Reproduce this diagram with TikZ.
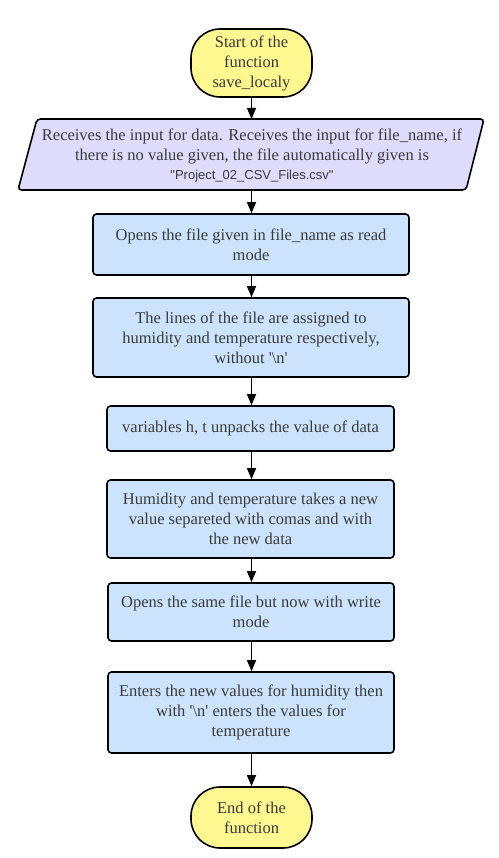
\documentclass[tikz,border=0pt]{standalone}
\usepackage{fontspec}
\setmainfont{Liberation Serif}
\newfontfamily\fnsans{Liberation Sans}
\usetikzlibrary{arrows.meta}
\definecolor{termyellow}{HTML}{FFF78F}
\definecolor{iolav}{HTML}{DEDCFC}
\definecolor{procblue}{HTML}{CCE3FD}
\definecolor{txtgray}{HTML}{3A3A3A}
\newcommand{\sq}{\textquotesingle}
\tikzset{
  base/.style={draw=black, line width=1.6pt, text=txtgray, align=center,
    font=\fontsize{16.5}{20}\selectfont, inner sep=2pt},
  terminal/.style={base, fill=termyellow, rounded corners=29pt},
  procbox/.style={base, fill=procblue, rounded corners=3.5pt},
  flow/.style={draw=black, line width=1.3pt, -{Triangle[length=11pt,width=9pt]}}
}
\begin{document}
\begin{tikzpicture}[x=1pt,y=-1pt]
\useasboundingbox (0,0) rectangle (498,858);
\node[terminal, minimum width=121pt, minimum height=68pt] (start) at (251.5,63)
  {Start of the\\function\\save\_localy};
% parallelogram
\coordinate (pTL) at (37,119);
\coordinate (pTR) at (484,119);
\coordinate (pBR) at (466,190);
\coordinate (pBL) at (18,190);
\draw[line width=1.6pt, fill=iolav, rounded corners=3.5pt]
  (pTL) -- (pTR) -- (pBR) -- (pBL) -- cycle;
\node[text=txtgray, align=center, inner sep=0pt, minimum height=71pt,
      font=\fontsize{16.5}{20}\selectfont] (input) at (252,155.5)
  {Receives the input for data. Receives the input for file\_name, if\\
   there is no value given, the file automatically given is\\[-1.5pt]
   {\fnsans\fontsize{13}{15}\selectfont \textquotedbl Project\_02\_CSV\_Files.csv\textquotedbl}};
\node[procbox, minimum width=316pt, minimum height=61pt] (b1) at (251,244.5)
  {Opens the file given in file\_name as read\\mode};
\node[procbox, minimum width=316pt, minimum height=79pt] (b2) at (251,337.5)
  {The lines of the file are assigned to\\humidity and temperature respectively,\\without \sq\textbackslash n\sq};
\node[procbox, minimum width=287pt, minimum height=45pt] (b3) at (250.5,428.5)
  {variables h, t unpacks the value of data};
\node[procbox, minimum width=287pt, minimum height=78pt] (b4) at (250.5,519)
  {Humidity and temperature takes a new\\value separeted with comas and with\\the new data};
\node[procbox, minimum width=286pt, minimum height=58pt] (b5) at (251,612)
  {Opens the same file but now with write\\mode};
\node[procbox, minimum width=286pt, minimum height=81pt] (b6) at (251,712.5)
  {Enters the new values for humidity then\\with \sq\textbackslash n\sq{} enters the values for\\temperature};
\node[terminal, minimum width=121pt, minimum height=61pt] (end) at (251.5,817.5)
  {End of the\\function};
\draw[flow] (start.south) -- (start.south |- pTL);
\draw[flow] (start.south |- pBL) -- (b1.north -| start.south);
\draw[flow] (b1.south -| start.south) -- (b2.north -| start.south);
\draw[flow] (b2.south -| start.south) -- (b3.north -| start.south);
\draw[flow] (b3.south -| start.south) -- (b4.north -| start.south);
\draw[flow] (b4.south -| start.south) -- (b5.north -| start.south);
\draw[flow] (b5.south -| start.south) -- (b6.north -| start.south);
\draw[flow] (b6.south -| start.south) -- (end.north -| start.south);
\end{tikzpicture}
\end{document}
